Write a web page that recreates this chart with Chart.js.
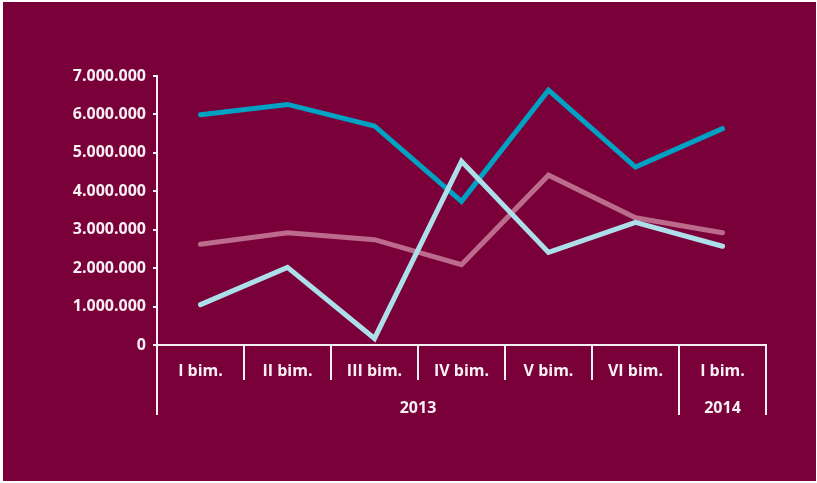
<!DOCTYPE html>
<html>
<head>
<meta charset="utf-8">
<script src="https://cdn.jsdelivr.net/npm/chart.js@4.4.0/dist/chart.umd.min.js"></script>
<style>
  html, body { margin: 0; padding: 0; background: #ffffff; }
  #wrap {
    position: absolute; left: 3px; top: 2px;
    width: 813px; height: 479px;
    background: #7a0039;
  }
</style>
</head>
<body>
<div id="wrap"><canvas id="chart" width="813" height="479"></canvas></div>
<script>
const categories = ["I bim.", "II bim.", "III bim.", "IV bim.", "V bim.", "VI bim.", "I bim."];
const years = [
  { label: "2013", from: 0, to: 5 },
  { label: "2014", from: 6, to: 6 }
];
const seriesA = [5990000, 6260000, 5700000, 3740000, 6630000, 4630000, 5630000];
const seriesB = [2620000, 2920000, 2740000, 2090000, 4420000, 3310000, 2920000];
const seriesC = [1050000, 2020000, 170000, 4780000, 2410000, 3190000, 2570000];
const yTicks = [0, 1000000, 2000000, 3000000, 4000000, 5000000, 6000000, 7000000];

const white = "#f7f0f3";
const labelFont = { family: "'Open Sans', sans-serif", size: 16, weight: "700" };

function fmt(v) {
  return String(v).replace(/\B(?=(\d{3})+(?!\d))/g, ".");
}

// category dividers under the x axis, plus the year groups
const groupAxis = {
  id: "groupAxis",
  afterDraw(chart) {
    const x = chart.scales.x;
    const ctx = chart.ctx;
    const half = (x.getPixelForValue(1) - x.getPixelForValue(0)) / 2;
    const top = x.top;
    const edges = new Set();
    years.forEach(g => { edges.add(g.from); edges.add(g.to + 1); });
    ctx.save();
    ctx.strokeStyle = white;
    ctx.lineWidth = 2;
    for (let i = 0; i <= categories.length; i++) {
      const px = Math.round(x.getPixelForValue(i) - half);
      const len = edges.has(i) ? 70 : 35;
      ctx.beginPath();
      ctx.moveTo(px, top);
      ctx.lineTo(px, top + len);
      ctx.stroke();
    }
    ctx.fillStyle = white;
    ctx.font = `${labelFont.weight} ${labelFont.size}px ${labelFont.family}`;
    ctx.textAlign = "center";
    ctx.textBaseline = "middle";
    years.forEach(g => {
      const cx = (x.getPixelForValue(g.from) + x.getPixelForValue(g.to)) / 2;
      ctx.fillText(g.label, cx, top + 63);
    });
    ctx.restore();
  }
};

new Chart(document.getElementById("chart").getContext("2d"), {
  type: "line",
  data: {
    labels: categories,
    datasets: [
      { data: seriesA, borderColor: "#00a2c4", order: 2 },
      { data: seriesB, borderColor: "#bc6b8c", order: 1 },
      { data: seriesC, borderColor: "#addfea", order: 0 }
    ]
  },
  options: {
    responsive: false,
    animation: false,
    layout: { padding: { top: 74, right: 50, left: 0, bottom: 0 } },
    elements: {
      line: { borderWidth: 5, tension: 0, borderCapStyle: "round", borderJoinStyle: "miter" },
      point: { radius: 0 }
    },
    plugins: { legend: { display: false }, tooltip: { enabled: false } },
    scales: {
      x: {
        offset: true,
        afterFit(s) { s.height = 136; },
        grid: { display: false },
        border: { display: true, color: white, width: 2 },
        ticks: { color: white, font: labelFont, padding: 9, maxRotation: 0, autoSkip: false }
      },
      y: {
        min: 0,
        max: 7000000,
        afterFit(s) { s.width = 154; },
        afterBuildTicks(s) { s.ticks = yTicks.map(v => ({ value: v })); },
        grid: { drawOnChartArea: false, tickLength: 4, color: white, lineWidth: 2 },
        border: { display: true, color: white, width: 2 },
        ticks: { color: white, font: labelFont, padding: 7, callback: v => fmt(v) }
      }
    }
  },
  plugins: [groupAxis]
});
</script>
</body>
</html>
